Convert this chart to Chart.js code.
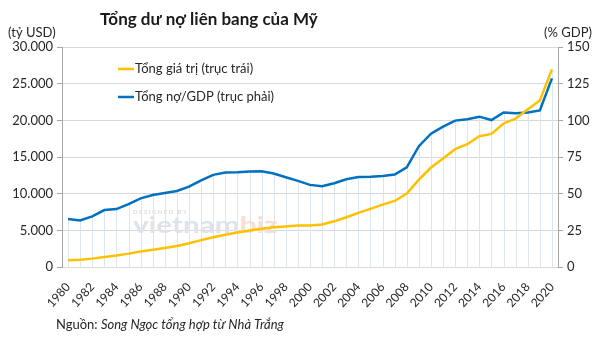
<!DOCTYPE html>
<html><head><meta charset="utf-8">
<script src="https://cdn.jsdelivr.net/npm/chart.js@4"></script>
<style>html,body{margin:0;padding:0;background:#fff}#wrap{width:600px;height:344px;position:relative}</style>
</head><body><div id="wrap"><canvas id="c"></canvas></div>
<script>
const years = ['1980','1981','1982','1983','1984','1985','1986','1987','1988','1989','1990','1991','1992','1993','1994','1995','1996','1997','1998','1999','2000','2001','2002','2003','2004','2005','2006','2007','2008','2009','2010','2011','2012','2013','2014','2015','2016','2017','2018','2019','2020'];
const debtValues = [908, 998, 1142, 1377, 1572, 1823, 2125, 2350, 2602, 2857, 3233, 3665, 4065, 4411, 4693, 4974, 5225, 5413, 5526, 5656, 5674, 5807, 6228, 6783, 7379, 7933, 8507, 9008, 10025, 11910, 13562, 14790, 16066, 16738, 17824, 18151, 19573, 20245, 21516, 22719, 26945];
const debtToGdp = [32.7, 31.7, 34.5, 38.8, 39.5, 42.9, 46.8, 49.1, 50.5, 51.8, 54.8, 59.1, 62.8, 64.4, 64.6, 65.1, 65.3, 63.7, 61.2, 58.7, 56.0, 55.0, 57.1, 59.8, 61.4, 61.6, 62.1, 63.0, 68.0, 82.4, 90.9, 95.7, 99.8, 100.7, 102.5, 100.2, 105.3, 104.8, 105.3, 106.8, 128.6];
const seriesNames = ['Tổng giá trị (trục trái)', 'Tổng nợ/GDP (trục phải)'];
const chartTitle = 'Tổng dư nợ liên bang của Mỹ';
const leftUnit = '(tỷ USD)';
const rightUnit = '(% GDP)';
const sourcePrefix = 'Nguồn: ';
const sourceText = 'Song Ngọc tổng hợp từ Nhà Trắng';

const YELLOW = '#FFC000';
const BLUE = '#0070C0';
const TXT = '#262626';
const FONT = 'Lato';

function fmt(v){ return String(v).replace(/\B(?=(\d{3})+(?!\d))/g, '.'); }

const decor = {
  id: 'decor',
  beforeDatasetsDraw(chart){
    const {ctx, chartArea, scales} = chart;
    // watermark
    ctx.save();
    ctx.textBaseline = 'alphabetic';
    ctx.fillStyle = 'rgba(160,170,180,0.4)';
    ctx.font = 'bold 6px ' + FONT;
    ctx.fillText('D E S I G N E D   B Y', 133, 214);
    ctx.translate(133, 233);
    ctx.scale(1.35, 1);
    ctx.font = 'bold 22px ' + FONT;
    ctx.fillStyle = 'rgb(222,227,234)';
    ctx.fillText('vietnam', 0, 0);
    const w = ctx.measureText('vietnam').width;
    ctx.fillStyle = 'rgb(250,222,206)';
    ctx.fillText('biz', w, 0);
    ctx.restore();
    // drop lines
    ctx.save();
    ctx.strokeStyle = '#dbe6ef';
    ctx.lineWidth = 1;
    const x = scales.x, yl = scales.y, yr = scales.y1;
    for (let i = 0; i < years.length; i++) {
      const px = Math.round(x.getPixelForValue(i)) + 0.5;
      const top = Math.min(yl.getPixelForValue(debtValues[i]), yr.getPixelForValue(debtToGdp[i]));
      ctx.beginPath();
      ctx.moveTo(px, top);
      ctx.lineTo(px, chartArea.bottom);
      ctx.stroke();
    }
    ctx.restore();
  },
  afterDraw(chart){
    const {ctx} = chart;
    ctx.save();
    ctx.textBaseline = 'middle';
    ctx.fillStyle = '#1a1a1a';
    ctx.font = 'bold 17px ' + FONT;
    ctx.fillText(chartTitle, 100, 20);
    ctx.fillStyle = TXT;
    ctx.font = '13px ' + FONT;
    ctx.fillText(leftUnit, 8, 33);
    ctx.textAlign = 'right';
    ctx.fillText(rightUnit, 592, 33);
    ctx.textAlign = 'left';
    // legend
    const rows = [[YELLOW, seriesNames[0], 69], [BLUE, seriesNames[1], 97]];
    rows.forEach(([c, t, y]) => {
      ctx.strokeStyle = c; ctx.lineWidth = 2.5;
      ctx.beginPath(); ctx.moveTo(118, y); ctx.lineTo(134, y); ctx.stroke();
      ctx.fillStyle = TXT; ctx.font = '13px ' + FONT;
      ctx.fillText(t, 135, y);
    });
    // source
    ctx.font = '13px ' + FONT;
    ctx.fillStyle = TXT;
    ctx.fillText(sourcePrefix, 56, 325);
    const w = ctx.measureText(sourcePrefix).width;
    ctx.font = 'italic 13px ' + FONT;
    ctx.fillText(sourceText, 56 + w, 325);
    ctx.restore();
  }
};

new Chart(document.getElementById('c'), {
  type: 'line',
  data: {
    labels: years,
    datasets: [
      { label: seriesNames[0], data: debtValues, yAxisID: 'y', borderColor: YELLOW, backgroundColor: YELLOW, borderWidth: 2.5, pointRadius: 0, tension: 0 },
      { label: seriesNames[1], data: debtToGdp, yAxisID: 'y1', borderColor: BLUE, backgroundColor: BLUE, borderWidth: 2.5, pointRadius: 0, tension: 0 }
    ]
  },
  options: {
    responsive: true,
    maintainAspectRatio: false,
    animation: false,
    layout: { padding: { top: 47, left: 0, right: 0, bottom: 0 } },
    plugins: { legend: { display: false }, tooltip: { enabled: false }, title: { display: false } },
    scales: {
      x: {
        type: 'category',
        offset: true,
        grid: { display: false },
        border: { display: false },
        ticks: {
          autoSkip: false, maxRotation: 48, minRotation: 48, padding: 5,
          color: TXT, font: { family: FONT, size: 12 },
          callback: (v, i) => (i % 2 === 0 ? years[i] : '')
        },
        afterFit(s){ s.height = 77; }
      },
      y: {
        position: 'left', min: 0, max: 30000,
        ticks: { stepSize: 5000, padding: 4, color: TXT, font: { family: FONT, size: 13 }, callback: v => fmt(v) },
        grid: { color: '#d9d9d9', tickColor: '#a6a6a6', tickLength: 5, lineWidth: 1 },
        border: { color: '#a6a6a6', width: 1 },
        afterFit(s){ s.width = 62; }
      },
      y1: {
        position: 'right', min: 0, max: 150,
        ticks: { stepSize: 25, padding: 4, color: TXT, font: { family: FONT, size: 13 } },
        grid: { drawOnChartArea: false, tickColor: '#a6a6a6', tickLength: 5 },
        border: { color: '#a6a6a6', width: 1 },
        afterFit(s){ s.width = 42; }
      }
    }
  },
  plugins: [decor]
});
</script></body></html>
